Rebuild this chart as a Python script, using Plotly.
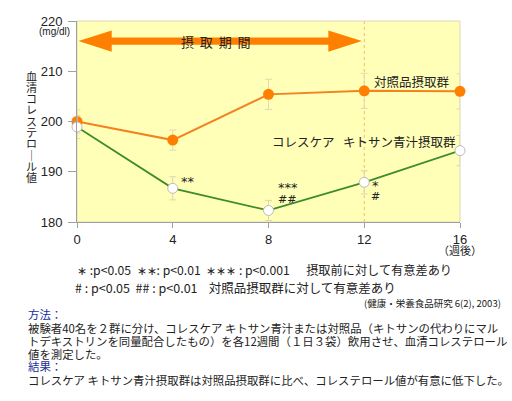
import plotly.graph_objects as go

weeks = [0, 4, 8, 12, 16]
control_vals = [200.0, 196.3, 205.4, 206.1, 206.0]
control_err = [2.3, 2.0, 3.0, 3.5, 3.5]
chitosan_vals = [198.9, 186.7, 182.3, 187.9, 194.2]
chitosan_err = [2.3, 2.3, 2.0, 2.3, 3.0]
y_ticks = [180, 190, 200, 210, 220]
x_ticks = [0, 4, 8, 12, 16]

W, H = 512, 401
L, R, T, B = 76.7, 460.0, 21.0, 222.0
FONT = "Noto Sans CJK JP"
ORANGE = "#FF8000"
GREEN = "#3C8C2A"
YELLOW = "#FFFFB8"
NB = "\u00a0"


def px(x):
    return (x - L) / (R - L)


def py(y):
    return (B - y) / (B - T)


fig = go.Figure()

fig.add_trace(go.Scatter(
    x=weeks, y=control_vals, mode="lines+markers",
    line=dict(color="#F58220", width=2),
    marker=dict(size=11, color=ORANGE, line=dict(color=ORANGE, width=0)),
    error_y=dict(type="data", array=control_err, color="#E6D8B0", thickness=1, width=3.5),
    cliponaxis=False, showlegend=False,
))
fig.add_trace(go.Scatter(
    x=weeks, y=chitosan_vals, mode="lines+markers",
    line=dict(color=GREEN, width=1.8),
    marker=dict(size=10, color="white", line=dict(color="#BBBBBB", width=1)),
    error_y=dict(type="data", array=chitosan_err, color="#DDD6B0", thickness=1, width=3.5),
    cliponaxis=False, showlegend=False,
))

shapes = []
shapes.append(dict(type="line", xref="x", yref="paper", x0=12, x1=12, y0=0, y1=1,
                   line=dict(color="#F8B870", width=1, dash="dot"), layer="below"))
shapes.append(dict(type="rect", xref="paper", yref="paper", x0=0, x1=1, y0=0, y1=1,
                   line=dict(color="#DCD8B8", width=1), layer="below"))
yc, sh, hh = 216.0, 0.72, 2.1
xl, xlb, xrb, xr = 0.06, 1.45, 10.5, 11.9
path = (f"M {xl},{yc} L {xlb},{yc+hh} L {xlb},{yc+sh} L {xrb},{yc+sh} L {xrb},{yc+hh} "
        f"L {xr},{yc} L {xrb},{yc-hh} L {xrb},{yc-sh} L {xlb},{yc-sh} L {xlb},{yc-hh} Z")
shapes.append(dict(type="path", xref="x", yref="y", path=path,
                   fillcolor=ORANGE, line=dict(width=0), layer="above"))

ann = []


def add(x, y, text, size, xref="paper", yref="paper", xanchor="center", family=FONT, color="#222"):
    ann.append(dict(x=x, y=y, xref=xref, yref=yref, text=text, showarrow=False,
                    xanchor=xanchor, yanchor="middle",
                    font=dict(family=family, size=size, color=color)))


add(5.8, 216, (NB * 2).join("摂取期間"), 13, "x", "y")
add(14.0, 207.9, "対照品摂取群", 12.5, "x", "y")
add(12.0, 196.0, "コレスケア" + NB * 3 + "キトサン青汁摂取群", 12.5, "x", "y")
add(4.25, 188.0, "**", 13, "x", "y", "left", "DejaVu Sans")
add(8.3, 186.9, "***", 13, "x", "y", "left", "DejaVu Sans")
add(8.3, 184.4, "##", 11, "x", "y", "left", "DejaVu Sans")
add(12.45, 187.2, "*", 13, "x", "y", "center", "DejaVu Sans")
add(12.45, 185.0, "#", 11, "x", "y", "center", "DejaVu Sans")
add(px(54), py(32), "(mg/dl)", 10, family="Liberation Sans")
add(px(460), py(250), "（週後）", 11)
ytitle = "血清コレステロ｜ル値"
for i, ch in enumerate(ytitle):
    add(px(31), py(75.5 + i * 11.33), ch, 11)

add(px(75), py(270),
    "∗" + NB + ":p&lt;0.05" + NB * 2 + "∗∗:" + NB + "p&lt;0.01" + NB * 2 + "∗∗∗" + NB + ":" + NB
    + "p&lt;0.001" + NB * 6 + "摂取前に対して有意差あり", 12.2, xanchor="left")
add(px(73), py(287),
    "#" + NB + ":" + NB + "p&lt;0.05" + NB * 2 + "##" + NB + ":" + NB + "p&lt;0.01"
    + NB * 4 + "対照品摂取群に対して有意差あり", 12.5, xanchor="left")
add(px(503), py(303), "(健康・栄養食品研究 6(2), 2003)", 9.5, xanchor="right")
body = [
    ("方法：", 314, "#1A2E9A"),
    ("被験者40名を２群に分け、コレスケア キトサン青汁または対照品（キトサンの代わりにマル", 328, "#222"),
    ("トデキストリンを同量配合したもの）を各12週間（１日３袋）飲用させ、血清コレステロール", 341, "#222"),
    ("値を測定した。", 354, "#222"),
    ("結果：", 366, "#1A2E9A"),
    ("コレスケア キトサン青汁摂取群は対照品摂取群に比べ、コレステロール値が有意に低下した。", 380, "#222"),
]
for txt, yy, col in body:
    add(px(26), py(yy), txt, 11.4, xanchor="left", color=col)

fig.update_layout(
    width=W, height=H,
    margin=dict(l=L, r=W - R, t=T, b=H - B, pad=0),
    paper_bgcolor="white", plot_bgcolor=YELLOW,
    shapes=shapes, annotations=ann,
    xaxis=dict(range=[0, 16], tickvals=x_ticks, ticktext=[str(v) for v in x_ticks],
               showgrid=False, zeroline=False, showline=True, linecolor="#A0A0A0", linewidth=1,
               ticks="outside", ticklen=5, tickcolor="#A0A0A0",
               tickfont=dict(family="Liberation Sans", size=13, color="#222")),
    yaxis=dict(range=[180, 220], tickvals=y_ticks, ticktext=[str(v) for v in y_ticks],
               showgrid=False, zeroline=False, showline=True, linecolor="#A0A0A0", linewidth=1,
               ticks="outside", ticklen=8, tickcolor="#A0A0A0", ticklabelstandoff=3,
               tickfont=dict(family="Liberation Sans", size=13, color="#222")),
)

fig.write_html("out.html", config={"displayModeBar": False},
               post_script="document.body.style.margin='0';document.body.style.padding='0';")
